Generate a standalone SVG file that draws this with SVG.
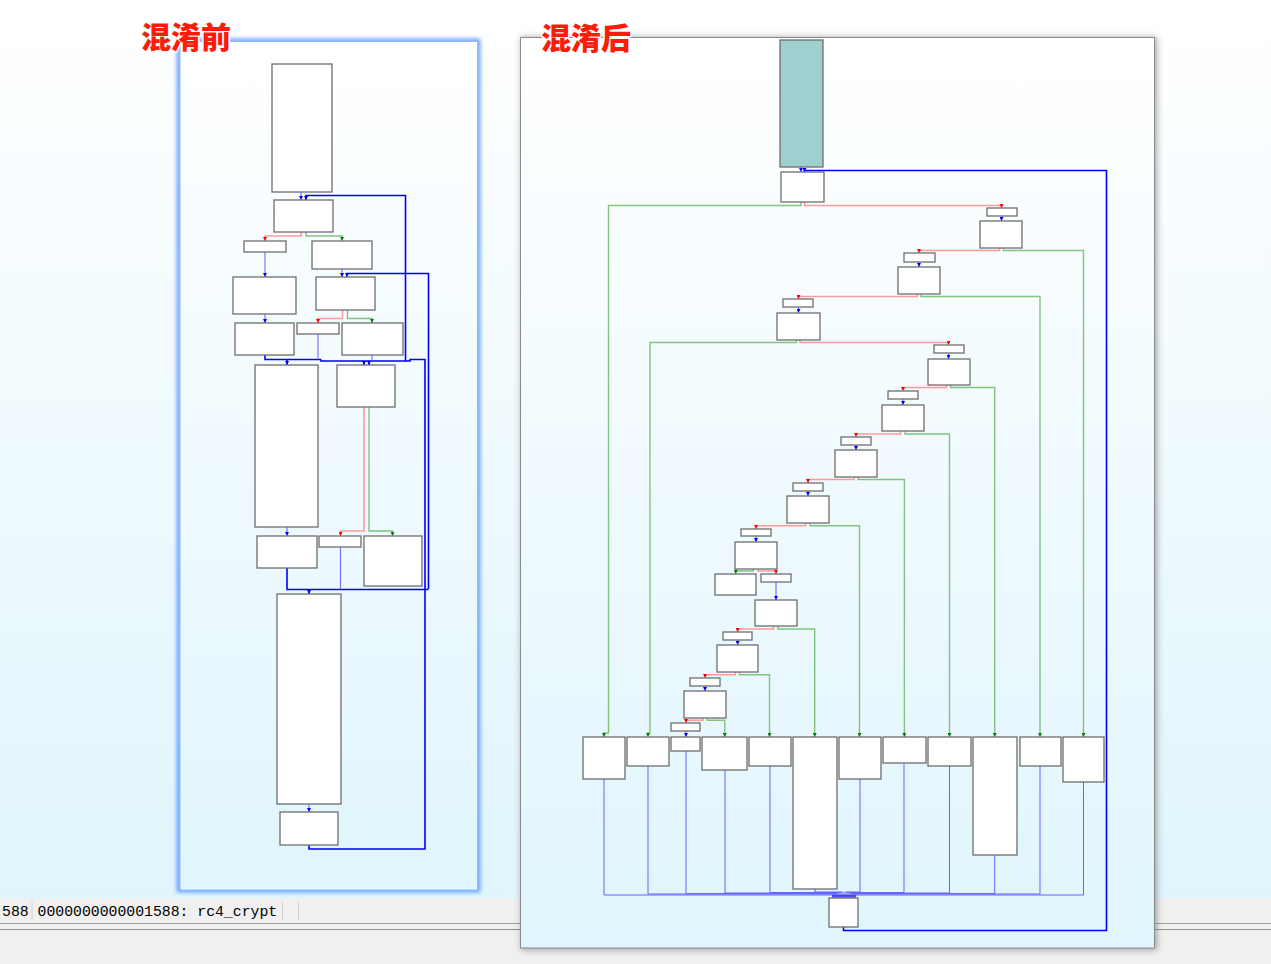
<svg xmlns="http://www.w3.org/2000/svg" width="1271" height="964" viewBox="0 0 1271 964">
<defs>
<linearGradient id="bg" x1="0" y1="0" x2="0" y2="1"><stop offset="0" stop-color="#ffffff"/><stop offset="1" stop-color="#ddf4fc"/></linearGradient>
<linearGradient id="pg" x1="0" y1="0" x2="0" y2="1"><stop offset="0" stop-color="#ffffff"/><stop offset="1" stop-color="#e0f5fd"/></linearGradient>
<filter id="glow" x="-10%" y="-10%" width="120%" height="120%"><feGaussianBlur stdDeviation="2"/></filter>
<filter id="shd" x="-10%" y="-10%" width="120%" height="120%"><feGaussianBlur stdDeviation="3"/></filter>
<marker id="ab" viewBox="0 0 6 6" refX="6" refY="3" markerWidth="4" markerHeight="4" markerUnits="userSpaceOnUse" orient="auto"><path d="M0,0L6,3L0,6z" fill="#0000ff"/></marker>
<marker id="ar" viewBox="0 0 6 6" refX="6" refY="3" markerWidth="4" markerHeight="4" markerUnits="userSpaceOnUse" orient="auto"><path d="M0,0L6,3L0,6z" fill="#ff0000"/></marker>
<marker id="ag" viewBox="0 0 6 6" refX="6" refY="3" markerWidth="4" markerHeight="4" markerUnits="userSpaceOnUse" orient="auto"><path d="M0,0L6,3L0,6z" fill="#008000"/></marker>
<marker id="as" viewBox="0 0 6 6" refX="6" refY="3" markerWidth="3" markerHeight="3" markerUnits="userSpaceOnUse" orient="auto"><path d="M0,0L6,3L0,6z" fill="#4040ff"/></marker>
</defs>
<style>
.n{fill:#ffffff;stroke:#6e6e6e;stroke-width:1.3}
.t{fill:#a0cfcf;stroke:#6e6e6e;stroke-width:1.3}
.e{fill:none;stroke-linejoin:miter}
.bl{stroke:#6a6aff;stroke-width:1.1;marker-end:url(#ab)}
.bln{stroke:#6a6aff;stroke-width:1.1}
.bt{stroke:#0000ff;stroke-width:1.6}
.bta{stroke:#0000ff;stroke-width:1.6;marker-end:url(#ab)}
.rd{stroke:#ff9a9a;stroke-width:1.6;marker-end:url(#ar)}
.gr{stroke:#80c480;stroke-width:1.4;marker-end:url(#ag)}
.mg{stroke:#6464ff;stroke-width:1}
.mga{stroke:#5050ff;stroke-width:1;marker-end:url(#as)}
.title{font-family:"Noto Sans CJK SC","Noto Sans CJK JP",sans-serif;font-size:30px;font-weight:900;fill:#ff1a0a;stroke:#ffffff;stroke-width:3;paint-order:stroke;stroke-linejoin:round}
.st{font-family:"Liberation Mono",monospace;font-size:14.8px;fill:#000000}
</style>

<!-- background -->
<rect x="0" y="0" width="1271" height="964" fill="url(#bg)"/>
<rect x="0" y="898" width="1271" height="66" fill="#f0f0f0"/>
<line x1="0" y1="923.5" x2="1271" y2="923.5" stroke="#a0a0a0" stroke-width="1"/>
<line x1="0" y1="929.5" x2="1271" y2="929.5" stroke="#909090" stroke-width="1"/>
<g id="statusbar">
<text class="st" x="2" y="916">588</text>
<line x1="32" y1="902" x2="32" y2="921" stroke="#d0d0d0"/>
<text class="st" x="37.5" y="916">0000000000001588: rc4_crypt</text>
<line x1="282.5" y1="902" x2="282.5" y2="921" stroke="#d0d0d0"/>
<line x1="298.5" y1="902" x2="298.5" y2="921" stroke="#d0d0d0"/>
</g>

<!-- left panel -->
<g id="panel-left">
<rect x="179" y="41" width="299" height="849" fill="none" stroke="#4f8fff" stroke-width="4" filter="url(#glow)"/>
<rect x="180" y="41.5" width="297.5" height="848.5" fill="url(#pg)" stroke="#8cbcff" stroke-width="1"/>
</g>

<!-- right panel -->
<g id="panel-right">
<rect x="521" y="37" width="636" height="913" fill="#606060" opacity="0.55" filter="url(#shd)"/>
<rect x="520.5" y="37.5" width="634" height="910.5" fill="url(#pg)" stroke="#8a8a8a" stroke-width="1"/>
</g>

<text class="title" x="141" y="48">混淆前</text>
<text class="title" x="541" y="49">混淆后</text>

<!-- left connectors -->
<g id="connectors-left" class="e">
<path class="e bl" d="M301,192V200"/>
<path class="e bta" d="M405.5,361V195.5H306V200"/>
<path class="e rd" d="M301,232V236H265V241"/>
<path class="e gr" d="M306,232V236H342V241"/>
<path class="e bl" d="M265,252V277"/>
<path class="e bl" d="M342,269V277"/>
<path class="e bta" d="M428.5,589V273.5H347V277"/>
<path class="e bl" d="M265,314V323"/>
<path class="e rd" d="M342.5,310V318.5H318V323"/>
<path class="e gr" d="M347.5,310V318.5H372V323"/>
<path class="e bt" d="M265,355V359.5H321"/>
<path class="e bta" d="M287,359.5V365"/>
<path class="e bln" d="M318,334V359.5"/>
<path class="e bln" d="M372,355V360.5"/>
<path class="e bt" d="M309,845V849H425V359.5H410V361H321V359.5"/>
<path class="e bta" d="M364,361V365"/>
<path class="e bta" d="M369,361V365"/>
<path class="e rd" d="M364,407V531H340.5V536"/>
<path class="e gr" d="M369,407V531H392.5V536"/>
<path class="e bl" d="M287,527V536"/>
<path class="e bt" d="M287,568V589.5H428.5"/>
<path class="e bln" d="M340.5,547V589.5"/>
<path class="e bta" d="M309,589.5V594"/>
<path class="e bl" d="M309,804V812"/>
</g>

<!-- left nodes -->
<g id="L_A"><rect class="n" x="272" y="64" width="60" height="128"/></g>
<g id="L_B"><rect class="n" x="274" y="200" width="59" height="32"/></g>
<g id="L_C"><rect class="n" x="244" y="241" width="42" height="11"/></g>
<g id="L_D"><rect class="n" x="312" y="241" width="60" height="28"/></g>
<g id="L_E"><rect class="n" x="233" y="277" width="63" height="37"/></g>
<g id="L_F"><rect class="n" x="316" y="277" width="59" height="33"/></g>
<g id="L_G"><rect class="n" x="235" y="323" width="59" height="32"/></g>
<g id="L_H"><rect class="n" x="297" y="323" width="42" height="11"/></g>
<g id="L_I"><rect class="n" x="342" y="323" width="61" height="32"/></g>
<g id="L_J"><rect class="n" x="255" y="365" width="63" height="162"/></g>
<g id="L_K"><rect class="n" x="337" y="365" width="58" height="42"/></g>
<g id="L_L"><rect class="n" x="257" y="536" width="60" height="32"/></g>
<g id="L_M"><rect class="n" x="319" y="536" width="42" height="11"/></g>
<g id="L_N"><rect class="n" x="364" y="536" width="58" height="50"/></g>
<g id="L_O"><rect class="n" x="277" y="594" width="64" height="210"/></g>
<g id="L_P"><rect class="n" x="280" y="812" width="58" height="33"/></g>

<!-- right connectors -->
<g id="connectors-right" class="e">
<path class="e bl" d="M801,167V172"/>
<path class="e bta" d="M843.5,927V930.5H1106.5V170.5H804.5V172"/>
<path class="e gr" d="M801,202V205.5H608.5V733H604V737"/>
<path class="e rd" d="M804.5,202V205.5H1001.5V208"/>
<path class="e bl" d="M1001.5,216V221"/>
<path class="e rd" d="M999.5,248V250.5H919V253"/>
<path class="e gr" d="M1003.5,248V250.5H1083.5V737"/>
<path class="e bl" d="M919,262V267"/>
<path class="e rd" d="M917.5,294V296.5H798.5V299"/>
<path class="e gr" d="M921,294V296.5H1040V737"/>
<path class="e bl" d="M798.5,307V313"/>
<path class="e gr" d="M796.5,340V342.5H650V733H648V737"/>
<path class="e rd" d="M800,340V342.5H948.5V345"/>
<path class="e bl" d="M948.5,353V359"/>
<path class="e rd" d="M946.5,385V387.5H903V391"/>
<path class="e gr" d="M950.5,385V387.5H994.7V737"/>
<path class="e bl" d="M903,399V405"/>
<path class="e rd" d="M900.5,431V434H856V437"/>
<path class="e gr" d="M905,431V434H949.5V737"/>
<path class="e bl" d="M856,445V450"/>
<path class="e rd" d="M854,477V479.5H808V483"/>
<path class="e gr" d="M858,477V479.5H904.4V737"/>
<path class="e bl" d="M808,491V496"/>
<path class="e rd" d="M805.7,523V525.7H756V529"/>
<path class="e gr" d="M810,523V525.7H859.5V737"/>
<path class="e bl" d="M756,536V542"/>
<path class="e gr" d="M753.3,569V571H735.7V574"/>
<path class="e rd" d="M758,569V571H776V574"/>
<path class="e bl" d="M776,582V600"/>
<path class="e rd" d="M773.5,626V629H737.6V632"/>
<path class="e gr" d="M778,626V629H814.7V737"/>
<path class="e bl" d="M737.6,640V645"/>
<path class="e rd" d="M735.3,672V674.7H705V678"/>
<path class="e gr" d="M739.5,672V674.7H769.5V737"/>
<path class="e bl" d="M705,686V691"/>
<path class="e rd" d="M703,718V720.3H686V723"/>
<path class="e gr" d="M707.3,718V720.3H724.8V737"/>
<path class="e bl" d="M686,731V737"/>
<!-- merge into exit block -->
<path class="e mg" d="M604,779V895H833V898"/>
<path class="e mg" d="M648,766V894H835V898"/>
<path class="e mg" d="M686,751V893.5H837V898"/>
<path class="e mg" d="M725,770V893H839V898"/>
<path class="e mg" d="M770,766V892.5H841V898"/>
<path class="e mg" d="M815,889V892H843V898"/>
<path class="e mg" d="M860,779V892H845V898"/>
<path class="e mg" d="M904,763V892.5H847V898"/>
<path class="e mg" d="M949.5,766V893H849V898"/>
<path class="e mg" d="M994.7,855V893.5H851V898"/>
<path class="e mg" d="M1040,766V894H853V898"/>
<path class="e mg" d="M1083.5,782V895H855V898"/>
<path class="e mga" d="M833,894V898"/>
<path class="e mga" d="M835,894V898"/>
<path class="e mga" d="M837,894V898"/>
<path class="e mga" d="M839,894V898"/>
<path class="e mga" d="M841,894V898"/>
<path class="e mga" d="M843,894V898"/>
<path class="e mga" d="M845,894V898"/>
<path class="e mga" d="M847,894V898"/>
<path class="e mga" d="M849,894V898"/>
<path class="e mga" d="M851,894V898"/>
<path class="e mga" d="M853,894V898"/>
<path class="e mga" d="M855,894V898"/>
</g>

<!-- right nodes -->
<g id="R_entry"><rect class="t" x="780" y="40" width="43" height="127"/></g>
<g id="R_disp"><rect class="n" x="781" y="172" width="43" height="30"/></g>
<g id="R_s1"><rect class="n" x="987" y="208" width="30" height="8"/></g>
<g id="R_n1"><rect class="n" x="980" y="221" width="42" height="27"/></g>
<g id="R_s2"><rect class="n" x="904" y="253" width="31" height="9"/></g>
<g id="R_n2"><rect class="n" x="898" y="267" width="42" height="27"/></g>
<g id="R_s3"><rect class="n" x="783" y="299" width="30" height="8"/></g>
<g id="R_n3"><rect class="n" x="777" y="313" width="43" height="27"/></g>
<g id="R_s4"><rect class="n" x="934" y="345" width="30" height="8"/></g>
<g id="R_n4"><rect class="n" x="928" y="359" width="42" height="26"/></g>
<g id="R_s5"><rect class="n" x="888" y="391" width="30" height="8"/></g>
<g id="R_n5"><rect class="n" x="882" y="405" width="42" height="26"/></g>
<g id="R_s6"><rect class="n" x="841" y="437" width="30" height="8"/></g>
<g id="R_n6"><rect class="n" x="835" y="450" width="42" height="27"/></g>
<g id="R_s7"><rect class="n" x="793" y="483" width="30" height="8"/></g>
<g id="R_n7"><rect class="n" x="787" y="496" width="42" height="27"/></g>
<g id="R_s8"><rect class="n" x="741" y="529" width="30" height="7"/></g>
<g id="R_n8"><rect class="n" x="735" y="542" width="42" height="27"/></g>
<g id="R_n8a"><rect class="n" x="715" y="574" width="41" height="21"/></g>
<g id="R_s9"><rect class="n" x="761" y="574" width="30" height="8"/></g>
<g id="R_n9"><rect class="n" x="755" y="600" width="42" height="26"/></g>
<g id="R_s10"><rect class="n" x="723" y="632" width="29" height="8"/></g>
<g id="R_n10"><rect class="n" x="717" y="645" width="41" height="27"/></g>
<g id="R_s11"><rect class="n" x="690" y="678" width="30" height="8"/></g>
<g id="R_n11"><rect class="n" x="684" y="691" width="42" height="27"/></g>
<g id="R_s12"><rect class="n" x="671" y="723" width="29" height="8"/></g>
<g id="R_b1"><rect class="n" x="583" y="737" width="42" height="42"/></g>
<g id="R_b2"><rect class="n" x="627" y="737" width="42" height="29"/></g>
<g id="R_b3"><rect class="n" x="671" y="737" width="29" height="14"/></g>
<g id="R_b4"><rect class="n" x="702" y="737" width="45" height="33"/></g>
<g id="R_b5"><rect class="n" x="749" y="737" width="42" height="29"/></g>
<g id="R_b6"><rect class="n" x="793" y="737" width="44" height="152"/></g>
<g id="R_b7"><rect class="n" x="839" y="737" width="42" height="42"/></g>
<g id="R_b8"><rect class="n" x="883" y="737" width="43" height="26"/></g>
<g id="R_b9"><rect class="n" x="928" y="737" width="43" height="29"/></g>
<g id="R_b10"><rect class="n" x="973" y="737" width="44" height="118"/></g>
<g id="R_b11"><rect class="n" x="1020" y="737" width="41" height="29"/></g>
<g id="R_b12"><rect class="n" x="1063" y="737" width="41" height="45"/></g>
<g id="R_exit"><rect class="n" x="829" y="898" width="29" height="29"/></g>
</svg>
